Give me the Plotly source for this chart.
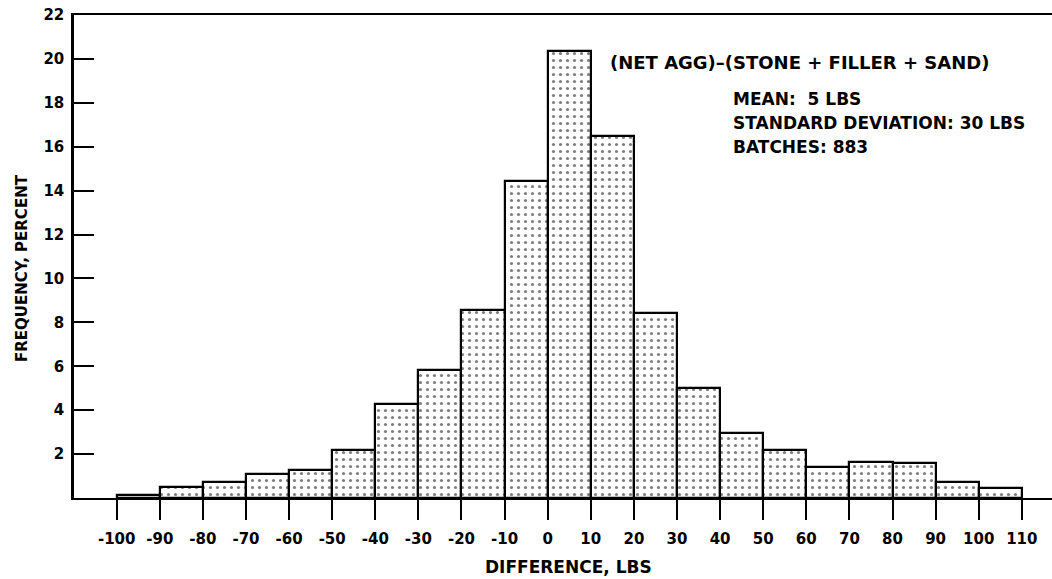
import plotly.graph_objects as go

# Histogram bins (left edges, lbs) and frequency (percent)
bin_left = [-100, -90, -80, -70, -60, -50, -40, -30, -20, -10, 0,
            10, 20, 30, 40, 50, 60, 70, 80, 90, 100]
bin_width = 10
frequency = [0.12, 0.5, 0.72, 1.1, 1.27, 2.19, 4.28, 5.84, 8.55, 14.45, 20.35,
             16.5, 8.43, 5.01, 2.94, 2.2, 1.41, 1.64, 1.59, 0.75, 0.47]

x_ticks = list(range(-100, 111, 10))
x_tick_text = [str(v) for v in x_ticks]
y_ticks = list(range(2, 23, 2))
y_tick_text = [str(v) for v in y_ticks]

stat_title = "(NET AGG)–(STONE + FILLER + SAND)"
stat_lines = ["MEAN:  5 LBS", "STANDARD DEVIATION: 30 LBS", "BATCHES: 883"]

FONT = "DejaVu Sans"

centers = [b + bin_width / 2 for b in bin_left]

W, H = 1052, 579
ML, MT, MB = 74, 15, 81
PLOT_W, PLOT_H = W - ML, H - MT - MB


def px(xwin):
    return (xwin - ML) / PLOT_W


def py(ywin):
    return (H - MB - ywin) / PLOT_H


fig = go.Figure()
fig.add_trace(go.Bar(
    x=centers,
    y=frequency,
    width=[bin_width] * len(centers),
    marker=dict(
        color="white",
        line=dict(color="black", width=2.2),
        pattern=dict(shape=".", fgcolor="black", bgcolor="white",
                     size=7, solidity=0.16, fillmode="overlay"),
    ),
    showlegend=False,
    hoverinfo="skip",
))

tick_font = dict(family=FONT, size=15, color="black", weight="bold")

fig.update_layout(
    width=W, height=H,
    margin=dict(l=ML, r=0, t=MT, b=MB),
    paper_bgcolor="white",
    plot_bgcolor="white",
    bargap=0,
    font=dict(family=FONT, color="black", size=15),
    xaxis=dict(
        range=[-109.9, 117],
        tickmode="array", tickvals=x_ticks, ticktext=x_tick_text,
        ticks="outside", ticklen=20, tickwidth=1.5, tickcolor="black",
        showline=True, linecolor="black", linewidth=2, mirror=True,
        showgrid=False, zeroline=False,
        tickfont=tick_font,
        ticklabelstandoff=6,
    ),
    yaxis=dict(
        range=[0, 22],
        tickmode="array", tickvals=y_ticks, ticktext=y_tick_text,
        ticks="inside", ticklen=20, tickwidth=1.5, tickcolor="black",
        showline=True, linecolor="black", linewidth=2.5,
        showgrid=False, zeroline=False,
        tickfont=tick_font,
        ticklabelstandoff=4,
    ),
)

text_font = dict(family=FONT, size=17, color="black", weight="bold")

fig.add_annotation(text=stat_title, xref="paper", yref="paper",
                   x=px(608), y=py(62),
                   xanchor="left", yanchor="middle", showarrow=False,
                   font=dict(family=FONT, size=18, color="black", weight="bold"))
for ypix, line in zip([99, 123, 147], stat_lines):
    fig.add_annotation(text=line, xref="paper", yref="paper",
                       x=px(731), y=py(ypix),
                       xanchor="left", yanchor="middle", showarrow=False,
                       font=text_font)

fig.add_annotation(text="DIFFERENCE, LBS", xref="paper", yref="paper",
                   x=px(568), y=py(567),
                   xanchor="center", yanchor="middle", showarrow=False,
                   font=dict(family=FONT, size=17, color="black", weight="bold"))
fig.add_annotation(text="FREQUENCY, PERCENT", xref="paper", yref="paper",
                   x=px(22), y=py(268),
                   xanchor="center", yanchor="middle", textangle=-90,
                   showarrow=False,
                   font=dict(family=FONT, size=15, color="black", weight="bold"))

fig.write_html(
    "out.html",
    config={"displayModeBar": False},
    post_script="document.body.style.margin='0';"
                "document.body.style.overflow='hidden';",
)
